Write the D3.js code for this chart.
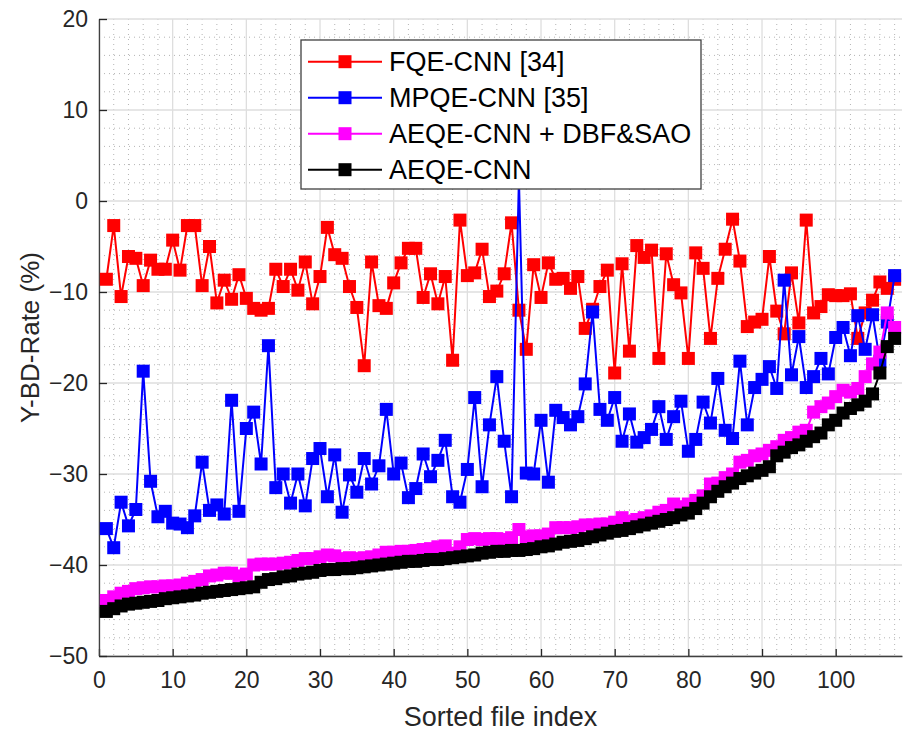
<html>

<head>
	<title>Y-BD-Rate</title>
	<script src="https://d3js.org/d3.v7.min.js"></script>
	<style>
		body {
			margin: 0;
			background: #fff;
		}

		text {
			font-family: "Liberation Sans", Arial, Helvetica, sans-serif;
			fill: #262626;
		}
	</style>
</head>

<body>
	<div id="chart"></div>
	<script>
		// values, index 1..108
		let fqe = [
			-8.6, -2.7, -10.5, -6.1, -6.3, -9.3, -6.5, -7.5, -7.5, -4.3,
			-7.6, -2.7, -2.7, -9.3, -5.0, -11.2, -8.7, -10.8, -8.1, -10.7,
			-11.8, -12.0, -11.8, -7.5, -9.4, -7.5, -9.8, -6.7, -11.3, -8.3,
			-2.9, -5.9, -6.3, -9.4, -11.7, -18.1, -6.7, -11.5, -11.8, -9.0,
			-6.8, -5.2, -5.2, -10.6, -8.0, -11.3, -8.3, -17.5, -2.1, -8.2,
			-7.9, -5.3, -10.5, -9.9, -8.0, -2.4, -12.0, -16.3, -7.0, -10.6,
			-6.8, -8.6, -8.5, -9.6, -8.3, -14.0, -11.9, -9.4, -7.6, -18.9,
			-6.9, -16.5, -4.9, -6.2, -5.4, -17.3, -5.8, -9.2, -10.1, -17.3,
			-5.7, -7.4, -15.1, -8.5, -5.3, -2.0, -6.6, -13.8, -13.3, -13.0,
			-6.1, -12.1, -14.6, -7.9, -13.4, -2.1, -12.3, -11.6, -10.3, -10.4,
			-10.4, -10.2, -15.1, -12.3, -10.9, -8.9, -9.6, -8.6
		];
		let mpqe = [
			-36.0, -38.1, -33.1, -35.7, -33.9, -18.7, -30.8, -34.7, -34.1, -35.4,
			-35.5, -35.9, -34.6, -28.7, -34.0, -33.4, -34.4, -21.9, -34.1, -25.0,
			-23.2, -28.9, -15.9, -31.5, -30.0, -33.2, -30.0, -33.5, -28.3, -27.2,
			-32.5, -27.9, -34.2, -30.1, -32.0, -28.3, -31.1, -29.1, -22.9, -30.0,
			-28.8, -32.6, -31.6, -27.8, -30.3, -28.5, -26.3, -32.5, -33.1, -29.5,
			-21.6, -31.4, -24.6, -19.3, -26.4, -32.5, 2.5, -29.9, -30.0, -24.1,
			-30.9, -23.0, -23.8, -24.6, -23.7, -20.1, -12.2, -22.9, -24.1, -21.6,
			-26.4, -23.4, -26.5, -26.0, -25.1, -22.6, -26.2, -23.7, -22.0, -27.5,
			-26.2, -22.1, -24.4, -19.5, -25.2, -26.1, -17.6, -24.6, -20.5, -19.6,
			-18.2, -20.6, -8.7, -19.1, -14.9, -20.5, -19.3, -17.3, -19.0, -15.0,
			-13.9, -17.0, -12.6, -16.3, -12.5, -17.6, -13.3, -8.2
		];
		let aeqeDbf = [
			-43.9, -43.5, -43.1, -42.9, -42.6, -42.5, -42.4, -42.4, -42.3, -42.3,
			-42.2, -42.0, -41.8, -41.6, -41.2, -41.1, -40.9, -40.9, -41.2, -41.0,
			-40.0, -39.9, -39.9, -39.9, -39.8, -39.7, -39.5, -39.3, -39.3, -39.1,
			-38.9, -39.0, -39.3, -39.2, -39.3, -39.2, -39.1, -38.9, -38.6, -38.6,
			-38.5, -38.5, -38.4, -38.3, -38.2, -38.0, -37.9, -38.7, -38.0, -37.2,
			-37.1, -37.2, -37.1, -37.1, -37.2, -37.0, -36.1, -36.9, -36.8, -36.8,
			-36.6, -35.9, -35.9, -35.9, -35.8, -35.6, -35.6, -35.5, -35.5, -35.3,
			-34.8, -35.2, -35.0, -34.8, -34.6, -34.2, -34.0, -33.3, -33.6, -33.3,
			-32.9, -32.4, -31.1, -31.0, -30.4, -30.0, -28.7, -28.5, -28.0, -27.8,
			-27.4, -27.0, -26.3, -26.0, -25.4, -25.2, -23.2, -22.6, -22.2, -21.5,
			-20.8, -21.0, -20.6, -19.3, -17.9, -16.6, -12.3, -13.9
		];
		let aeqe = [
			-45.1, -44.8, -44.5, -44.3, -44.2, -44.1, -44.0, -43.9, -43.7, -43.6,
			-43.5, -43.4, -43.3, -43.1, -43.0, -42.9, -42.8, -42.7, -42.6, -42.5,
			-42.4, -41.9, -41.6, -41.5, -41.3, -41.2, -41.0, -40.9, -40.8, -40.6,
			-40.5, -40.5, -40.4, -40.4, -40.3, -40.2, -40.1, -40.0, -39.9, -39.8,
			-39.7, -39.6, -39.6, -39.5, -39.4, -39.4, -39.3, -39.2, -39.1, -39.0,
			-38.9, -38.7, -38.6, -38.5, -38.5, -38.4, -38.4, -38.3, -38.2, -38.0,
			-37.9, -37.7, -37.5, -37.4, -37.3, -37.1, -36.9, -36.7, -36.5, -36.3,
			-36.2, -36.0, -35.8, -35.6, -35.4, -35.2, -35.0, -34.8, -34.5, -34.3,
			-33.8, -33.2, -32.5, -31.9, -31.4, -31.0, -30.5, -30.2, -29.9, -29.6,
			-29.2, -28.0, -27.6, -27.1, -26.8, -26.4, -25.9, -25.5, -24.6, -24.1,
			-23.3, -22.8, -22.4, -22.0, -21.2, -18.9, -16.0, -15.1
		];

		let seriesNames = ["FQE-CNN [34]", "MPQE-CNN [35]", "AEQE-CNN + DBF&SAO", "AEQE-CNN"];
		let seriesColors = ["#ff0000", "#0000ff", "#ff00ff", "#000000"];
		let seriesValues = [fqe, mpqe, aeqeDbf, aeqe];

		let xTicks = [0, 10, 20, 30, 40, 50, 60, 70, 80, 90, 100];
		let yTicks = [-50, -40, -30, -20, -10, 0, 10, 20];

		let W = 904, H = 733;
		let mLeft = 99, mRight = 902, mTop = 19, mBottom = 656;

		let x = d3.scaleLinear().domain([0, 109]).range([mLeft, mRight]);
		let y = d3.scaleLinear().domain([-50, 20]).range([mBottom, mTop]);

		let svg = d3.select("#chart").append("svg")
			.attr("width", W)
			.attr("height", H);

		// minor grid, every 2 units
		let minorX = d3.range(2, 109, 2).filter(d => d % 10 != 0);
		let minorY = d3.range(-48, 20, 2).filter(d => d % 10 != 0);

		svg.append("g").selectAll("line").data(minorX).enter().append("line")
			.attr("x1", d => x(d)).attr("x2", d => x(d))
			.attr("y1", mTop).attr("y2", mBottom)
			.attr("stroke", "#b4b4b4")
			.attr("stroke-width", 1)
			.attr("stroke-dasharray", "1,4");
		svg.append("g").selectAll("line").data(minorY).enter().append("line")
			.attr("x1", mLeft).attr("x2", mRight)
			.attr("y1", d => y(d)).attr("y2", d => y(d))
			.attr("stroke", "#b4b4b4")
			.attr("stroke-width", 1)
			.attr("stroke-dasharray", "1,4");

		// major grid
		svg.append("g").selectAll("line").data(xTicks).enter().append("line")
			.attr("x1", d => x(d)).attr("x2", d => x(d))
			.attr("y1", mTop).attr("y2", mBottom)
			.attr("stroke", "#dedede")
			.attr("stroke-width", 1.3);
		svg.append("g").selectAll("line").data(yTicks).enter().append("line")
			.attr("x1", mLeft).attr("x2", mRight)
			.attr("y1", d => y(d)).attr("y2", d => y(d))
			.attr("stroke", "#dedede")
			.attr("stroke-width", 1.3);

		// axes, ticks pointing inward
		let xAxis = svg.append("g")
			.attr("transform", "translate(0," + mBottom + ")")
			.call(d3.axisBottom(x).tickValues(xTicks).tickSizeInner(-7).tickSizeOuter(0).tickPadding(16));
		let yAxis = svg.append("g")
			.attr("transform", "translate(" + mLeft + ",0)")
			.call(d3.axisLeft(y).tickValues(yTicks).tickSizeInner(-8).tickSizeOuter(0).tickPadding(11)
				.tickFormat(d => d < 0 ? "\u2212" + Math.abs(d) : d));

		[xAxis, yAxis].forEach(function (a) {
			a.select(".domain").attr("stroke", "#404040").attr("stroke-width", 1.3);
			a.selectAll(".tick line").attr("stroke", "#262626").attr("stroke-width", 1.3);
			a.selectAll(".tick text").attr("font-size", 23).attr("fill", "#262626")
				.style("font-family", "'Liberation Sans', Arial, sans-serif");
		});

		svg.append("text")
			.attr("x", (mLeft + mRight) / 2)
			.attr("y", 726)
			.attr("text-anchor", "middle")
			.attr("font-size", 27)
			.text("Sorted file index");

		svg.append("text")
			.attr("transform", "translate(39," + (mTop + mBottom) / 2 + ") rotate(-90)")
			.attr("text-anchor", "middle")
			.attr("font-size", 26)
			.text("Y-BD-Rate (%)");

		// series
		let line = d3.line()
			.x((d, i) => x(i + 1))
			.y(d => y(d));
		let ms = 13;

		seriesValues.forEach(function (vals, k) {
			let g = svg.append("g");
			g.append("path")
				.datum(vals)
				.attr("d", line)
				.attr("fill", "none")
				.attr("stroke", seriesColors[k])
				.attr("stroke-width", 2);
			g.selectAll("rect").data(vals).enter().append("rect")
				.attr("x", (d, i) => x(i + 1) - ms / 2)
				.attr("y", d => y(d) - ms / 2)
				.attr("width", ms)
				.attr("height", ms)
				.attr("fill", seriesColors[k]);
		});

		// legend
		let lg = svg.append("g").attr("transform", "translate(301,40)");
		lg.append("rect")
			.attr("width", 400)
			.attr("height", 149)
			.attr("fill", "#fff")
			.attr("stroke", "#404040")
			.attr("stroke-width", 1.3);
		let rows = lg.selectAll("g.row").data(seriesNames).enter().append("g")
			.attr("class", "row")
			.attr("transform", (d, i) => "translate(0," + (21.7 + i * 36) + ")");
		rows.append("line")
			.attr("x1", 7).attr("x2", 81)
			.attr("stroke", (d, i) => seriesColors[i])
			.attr("stroke-width", 2);
		rows.append("rect")
			.attr("x", 44 - ms / 2).attr("y", -ms / 2)
			.attr("width", ms).attr("height", ms)
			.attr("fill", (d, i) => seriesColors[i]);
		rows.append("text")
			.attr("x", 88)
			.attr("dy", "0.35em")
			.attr("font-size", 27)
			.style("fill", "#000")
			.text(d => d);
	</script>
</body>

</html>
